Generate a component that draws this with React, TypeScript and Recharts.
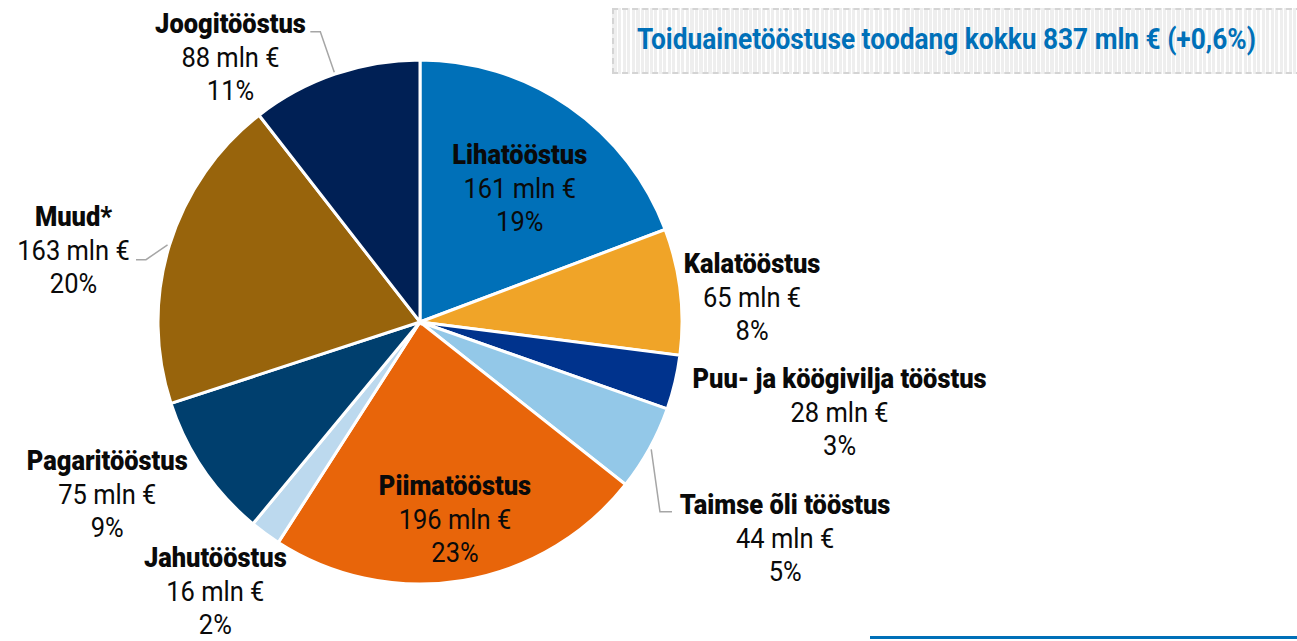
import { PieChart, Pie, Cell } from "recharts";

// food industry output by branch, mln €
const branches = [
  "Lihatööstus",
  "Kalatööstus",
  "Puu- ja köögivilja tööstus",
  "Taimse õli tööstus",
  "Piimatööstus",
  "Jahutööstus",
  "Pagaritööstus",
  "Muud*",
  "Joogitööstus",
];
const output = [161, 65, 28, 44, 196, 16, 75, 163, 88];
const shares = [19, 8, 3, 5, 23, 2, 9, 20, 11];
const colors = ["#0070B8", "#F0A428", "#00338D", "#93C8E8", "#E8650A", "#BCD9EE", "#003F6E", "#98640C", "#002055"];

// label placement: distance from centre and angle nudge (deg) off the slice's mid angle
const labelRadius = [167, 333, 429, 424, 200, 338, 357, 354, 326];
const labelNudge = [-2, -2.4, 1.3, -1.7, 0.6, -1.1, -5.4, 5.2, 16.6];
// leader lines: [elbow radius, elbow angle nudge, tail dx]
const leaders: Record<number, [number, number, number]> = {
  3: [306, -9.5, 12],
  7: [281, 4.2, -10],
  8: [307, 0, -10],
};

// no Roboto Condensed offline, so squeeze Roboto horizontally
const FONT = "Roboto, 'DejaVu Sans', sans-serif";
const LABEL_SIZE = 28;
const LABEL_SQUEEZE = 0.91;
const TITLE_SIZE = 30;
const TITLE_SQUEEZE = 0.875;
const RAD = Math.PI / 180;

const data = branches.map((name, i) => ({ name, value: output[i], share: shares[i] }));

function polar(cx: number, cy: number, r: number, deg: number) {
  return [cx + r * Math.cos(-deg * RAD), cy + r * Math.sin(-deg * RAD)];
}

function renderLabel(props: any) {
  const { cx, cy, midAngle, outerRadius, index } = props;
  const [x, y] = polar(cx, cy, labelRadius[index], midAngle + labelNudge[index]);
  const leader = leaders[index];
  let line = null;
  if (leader) {
    const [sx, sy] = polar(cx, cy, outerRadius + 2, midAngle);
    const [ex, ey] = polar(cx, cy, leader[0], midAngle + leader[1]);
    line = (
      <polyline
        points={`${sx},${sy} ${ex},${ey} ${ex + leader[2]},${ey}`}
        fill="none"
        stroke="#A6A6A6"
        strokeWidth={1.5}
      />
    );
  }
  return (
    <g key={`lbl-${index}`}>
      {line}
      <text
        transform={`translate(${x},${y}) scale(${LABEL_SQUEEZE},1)`}
        x={0}
        y={0}
        textAnchor="middle"
        fontFamily={FONT}
        fontSize={LABEL_SIZE}
        fill="#0A0A0A"
      >
        <tspan x={0} dy={-24} fontWeight={900}>{branches[index]}</tspan>
        <tspan x={0} dy={34}>{output[index]} mln €</tspan>
        <tspan x={0} dy={33}>{shares[index]}%</tspan>
      </text>
    </g>
  );
}

export default function App() {
  return (
    <div style={{ position: "absolute", left: 0, top: 0, width: 1297, height: 641, background: "#fff" }}>
      <div
        style={{
          position: "absolute",
          left: 612,
          top: 8,
          width: 700,
          height: 66,
          boxSizing: "border-box",
          border: "2px dashed #D4D4D4",
          background: "repeating-linear-gradient(90deg, #EEEEEE 0px, #EEEEEE 3px, #FFFFFF 3px, #FFFFFF 4.5px)",
        }}
      >
        <span
          style={{
            position: "absolute",
            left: 23,
            top: 9,
            display: "inline-block",
            whiteSpace: "nowrap",
            transform: `scale(${TITLE_SQUEEZE},1)`,
            transformOrigin: "left center",
            fontFamily: FONT,
            fontWeight: "bold",
            fontSize: TITLE_SIZE,
            color: "#0070B8",
            lineHeight: "40px",
          }}
        >
          Toiduainetööstuse toodang kokku 837 mln € (+0,6%)
        </span>
      </div>
      <div style={{ position: "absolute", left: 870, top: 636, width: 427, height: 3, background: "#0070B8" }} />
      <PieChart width={1297} height={641} margin={{ top: 0, right: 0, bottom: 0, left: 0 }}>
        <Pie
          data={data}
          dataKey="value"
          nameKey="name"
          cx={420}
          cy={322}
          outerRadius={262}
          startAngle={90}
          endAngle={-270}
          stroke="#FFFFFF"
          strokeWidth={3}
          labelLine={false}
          label={renderLabel}
          isAnimationActive={false}
        >
          {data.map((d, i) => (
            <Cell key={`cell-${i}`} fill={colors[i]} />
          ))}
        </Pie>
      </PieChart>
    </div>
  );
}
